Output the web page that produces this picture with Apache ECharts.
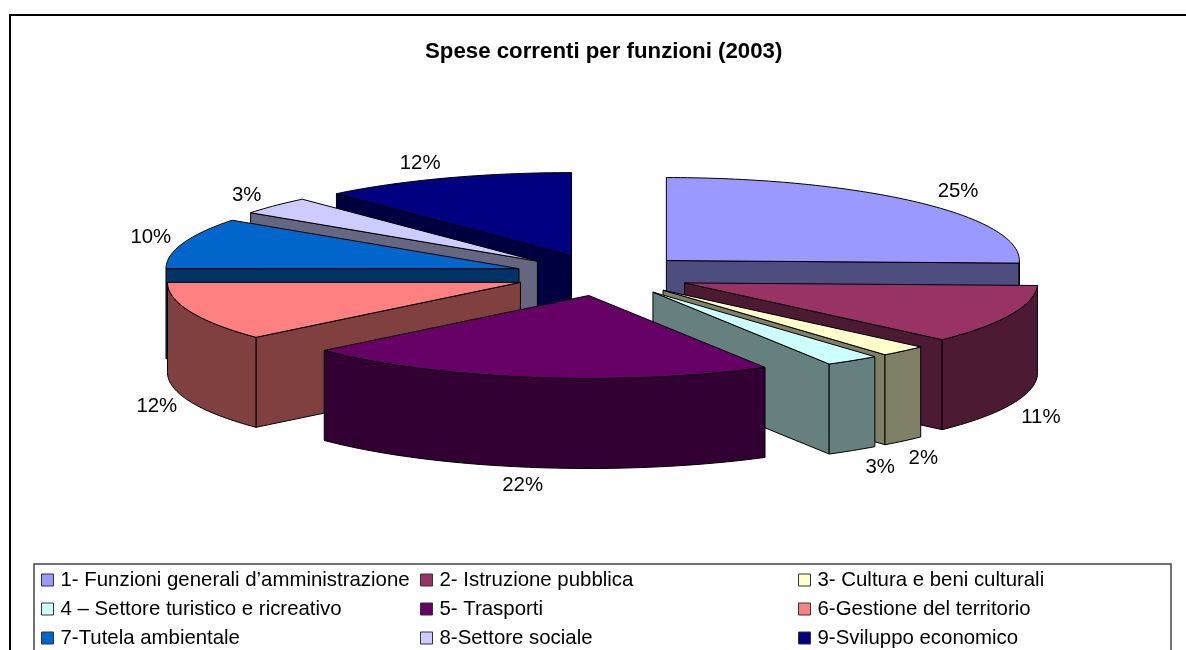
<!DOCTYPE html>
<html><head><meta charset="utf-8">
<style>html,body{margin:0;padding:0;background:#fff}#c{width:1186px;height:650px}</style>
<script src="https://cdn.jsdelivr.net/npm/echarts@6/dist/echarts.min.js"></script>
</head><body><div id="c"></div>
<script>
const titleText = 'Spese correnti per funzioni (2003)';
const categories = ['1- Funzioni generali d’amministrazione','2- Istruzione pubblica','3- Cultura e beni culturali','4 – Settore turistico e ricreativo','5- Trasporti','6-Gestione del territorio','7-Tutela ambientale','8-Settore sociale','9-Sviluppo economico'];
const shares = [25.49, 11.49, 2.2, 2.5, 21.8, 11.52, 9.91, 3.49, 11.6];
const topColors = ['#9999FF','#993366','#FFFFCC','#CCFFFF','#660066','#FF8080','#0066CC','#CCCCFF','#000080'];
const sideColors = ['#4D4D80','#4D1A33','#808066','#668080','#330033','#804040','#003366','#666680','#000040'];

// projection of the tilted, exploded pie
const CX = 603, CY = 275, RX = 353, RY = 83, DEPTH = 90, EXPLODE = 0.25;
const LABEL_RX = 38, LABEL_RY = 18;
const labelNudge = [[11,1],[-5,6],[-6,4],[6,2],[-3,0],[2,-2],[4,0],[0,2],[-12,2]];
const FONT = '"Liberation Sans", Arial, sans-serif';

const total = shares.reduce((a,b)=>a+b,0);
let run = 0;
const slices = shares.map((v,i)=>{
  const a0 = run/total*Math.PI*2; run += v;
  const a1 = run/total*Math.PI*2;
  const mid = (a0+a1)/2;
  return {i, a0, a1, mid,
    ax: CX + EXPLODE*RX*Math.sin(mid), ay: CY - EXPLODE*RY*Math.cos(mid),
    pct: Math.round(v/total*100)};
});
function arcPts(s, from, to, dz){
  const n = Math.max(2, Math.ceil((to-from)/0.02)), pts=[];
  for(let k=0;k<=n;k++){
    const t = from+(to-from)*k/n;
    pts.push([s.ax+RX*Math.sin(t), s.ay-RY*Math.cos(t)+dz]);
  }
  return pts;
}
function sliceItem(s){
  const side = sideColors[s.i], top = topColors[s.i], kids = [];
  const face = (pts,fill)=>kids.push({type:'polygon',shape:{points:pts},style:{fill,stroke:'#000',lineWidth:1}});
  const cut = a=>{
    const ox=s.ax+RX*Math.sin(a), oy=s.ay-RY*Math.cos(a);
    face([[s.ax,s.ay],[ox,oy],[ox,oy+DEPTH],[s.ax,s.ay+DEPTH]],side);
  };
  if(Math.sin(s.a0) < -1e-6) cut(s.a0);
  if(Math.sin(s.a1) > 1e-6) cut(s.a1);
  const w0=Math.max(s.a0,Math.PI/2), w1=Math.min(s.a1,Math.PI*1.5);
  if(w1>w0) face(arcPts(s,w0,w1,0).concat(arcPts(s,w0,w1,DEPTH).reverse()),side);
  face([[s.ax,s.ay]].concat(arcPts(s,s.a0,s.a1,0)),top);
  const front = Math.cos(s.mid)<0 ? DEPTH : 0;
  const lx = s.ax+(RX+LABEL_RX)*Math.sin(s.mid)+labelNudge[s.i][0];
  const ly = s.ay-(RY+LABEL_RY)*Math.cos(s.mid)+front+labelNudge[s.i][1];
  kids.push({type:'text',style:{text:s.pct+'%',x:lx,y:ly,fill:'#000',font:'20.4px '+FONT,align:'center',verticalAlign:'middle'}});
  return {type:'group',children:kids};
}
// painter's order: far slices first
const order = slices.slice().sort((p,q)=>(-Math.cos(p.mid))-(-Math.cos(q.mid)));
const series = order.map((s,rank)=>({
  type:'custom', name:categories[s.i], coordinateSystem:'none', z:10+rank, silent:true, animation:false,
  itemStyle:{color:topColors[s.i]},
  data:[[shares[s.i]]],
  renderItem:()=>sliceItem(s)
}));
const legendCol = (left,idx)=>({
  orient:'vertical', left, top:565, height:130, icon:'rect', itemWidth:12, itemHeight:12, itemGap:9,
  data:idx.map(i=>categories[i]), selectedMode:false,
  textStyle:{fontFamily:FONT,fontSize:20.4,lineHeight:20,color:'#000',padding:[0,0,0,2]},
  itemStyle:{borderColor:'#333',borderWidth:1}
});
const chart = echarts.init(document.getElementById('c'),null,{renderer:'canvas'});
chart.setOption({
  animation:false, backgroundColor:'#fff',
  title:{text:titleText,left:420,top:36,textStyle:{fontFamily:FONT,fontSize:22.25,fontWeight:'bold',color:'#000'}},
  legend:[legendCol(36,[0,3,6]),legendCol(415,[1,4,7]),legendCol(793,[2,5,8])],
  graphic:[
    {type:'rect',z:0,shape:{x:10,y:15,width:1400,height:800},style:{fill:'#fff',stroke:'#000',lineWidth:2}},
    {type:'rect',z:1,shape:{x:34,y:564,width:1137,height:160},style:{fill:'#fff',stroke:'#444',lineWidth:1.5}}
  ],
  series
});
</script></body></html>
